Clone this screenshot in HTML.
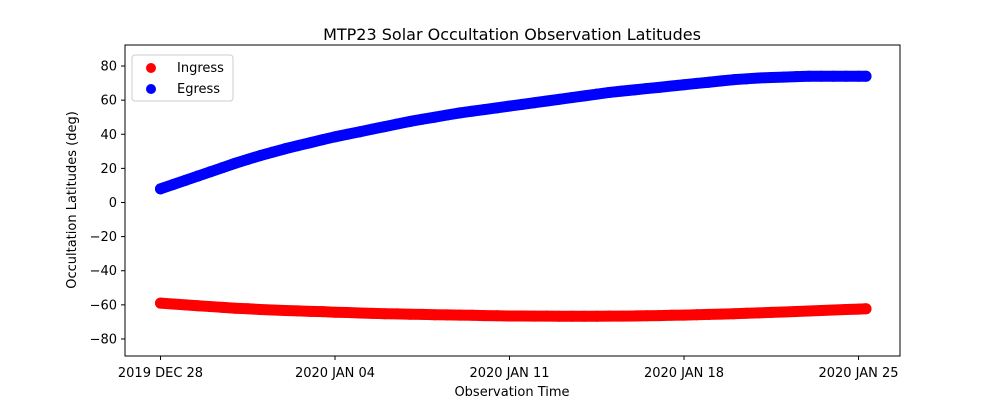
<!DOCTYPE html>
<html><head><meta charset="utf-8"><style>
html,body{margin:0;padding:0;background:#fff;}
svg{display:block;font-family:"DejaVu Sans","Liberation Sans",sans-serif;}
</style></head><body>
<svg id="chart" width="1000" height="400">
<rect width="1000" height="400" fill="#fff"/>
<text x="512" y="40" font-size="16" text-anchor="middle">MTP23 Solar Occultation Observation Latitudes</text>
<g id="marks"></g>
<g id="axes"></g>
<rect x="125" y="45" width="775" height="311" fill="none" stroke="#000" stroke-width="1"/>
<text x="512" y="396" font-size="13" text-anchor="middle">Observation Time</text>
<text transform="translate(76,200) rotate(-90)" font-size="13" text-anchor="middle">Occultation Latitudes (deg)</text>
<g>
<rect x="132" y="55" width="101" height="46" rx="3" fill="#fff" fill-opacity="0.8" stroke="#ccc"/>
<circle cx="151" cy="68" r="5" fill="#f00"/>
<text x="177" y="72" font-size="13">Ingress</text>
<circle cx="151" cy="89" r="5" fill="#00f"/>
<text x="177" y="93" font-size="13">Egress</text>
</g>
</svg>
<script>
const days=[0,0.5,1,1.5,2,2.5,3,3.5,4,4.5,5,5.5,6,6.5,7,7.5,8,8.5,9,9.5,10,10.5,11,11.5,12,12.5,13,13.5,14,14.5,15,15.5,16,16.5,17,17.5,18,18.5,19,19.5,20,20.5,21,21.5,22,22.5,23,23.5,24,24.5,25,25.5,26,26.5,27,27.5,28,28.3];
const egress=[8,10.5,13,15.5,18,20.5,23,25.3,27.5,29.5,31.5,33.3,35,36.8,38.5,40,41.5,43,44.5,46,47.5,48.8,50,51.3,52.5,53.5,54.5,55.5,56.5,57.5,58.5,59.5,60.5,61.5,62.5,63.5,64.5,65.3,66,66.8,67.5,68.3,69,69.8,70.5,71.3,72,72.5,73,73.3,73.5,73.8,74,74,74,74,74,74];
const ingress=[-59,-59.5,-60,-60.5,-61,-61.5,-62,-62.3,-62.7,-63,-63.3,-63.5,-63.8,-64,-64.3,-64.5,-64.8,-65,-65.2,-65.3,-65.5,-65.6,-65.8,-65.9,-66,-66.1,-66.3,-66.4,-66.5,-66.5,-66.6,-66.6,-66.7,-66.7,-66.7,-66.7,-66.6,-66.6,-66.5,-66.4,-66.3,-66.1,-66,-65.8,-65.6,-65.4,-65.2,-64.9,-64.7,-64.4,-64.2,-63.9,-63.6,-63.3,-63,-62.7,-62.5,-62.3];
const xTickDays=[0,7,14,21,28];
const xTickLabels=["2019 DEC 28","2020 JAN 04","2020 JAN 11","2020 JAN 18","2020 JAN 25"];
const yTicks=[-80,-60,-40,-20,0,20,40,60,80];

const NS="http://www.w3.org/2000/svg";
function xs(d){return 160.5+d*24.93;}
function ys(v){return 202.5-v*1.706;}
const marks=document.getElementById('marks');
const axes=document.getElementById('axes');
const n=Math.min(days.length,ingress.length,egress.length);
function series(vals,c,name){
  const pts=[];
  for(let i=0;i<n;i++){pts.push(xs(days[i])+','+ys(vals[i]));}
  const pl=document.createElementNS(NS,'polyline');
  pl.setAttribute('points',pts.join(' '));
  pl.setAttribute('fill','none');pl.setAttribute('stroke',c);pl.setAttribute('stroke-width','11');
  pl.setAttribute('stroke-linecap','round');pl.setAttribute('stroke-linejoin','round');
  
  
  marks.appendChild(pl);
  for(let i=0;i<n;i++){
    const el=document.createElementNS(NS,'circle');
    el.setAttribute('cx',xs(days[i]));el.setAttribute('cy',ys(vals[i]));el.setAttribute('r',5.5);el.setAttribute('fill',c);
    
    
    marks.appendChild(el);
  }
}
series(ingress,'#f00','ingress');
series(egress,'#00f','egress');
function line(x1,y1,x2,y2){const l=document.createElementNS(NS,'line');l.setAttribute('x1',x1);l.setAttribute('y1',y1);l.setAttribute('x2',x2);l.setAttribute('y2',y2);l.setAttribute('stroke','#000');return l;}
function txt(x,y,s,anchor){const t=document.createElementNS(NS,'text');t.setAttribute('x',x);t.setAttribute('y',y);t.setAttribute('font-size','13');t.setAttribute('text-anchor',anchor);t.textContent=s;return t;}
xTickDays.forEach((d,i)=>{
  const l=line(xs(d),356,xs(d),360);
  
  
  axes.appendChild(l);
  const t=txt(xs(d),377,xTickLabels[i],'middle');
  
  
  axes.appendChild(t);
});
yTicks.forEach(v=>{
  const l=line(121,ys(v),125,ys(v));
  
  
  axes.appendChild(l);
  const t=txt(117,ys(v)+4.5,String(v).replace('-','\u2212'),'end');
  
  
  axes.appendChild(t);
});
</script>
</body></html>
